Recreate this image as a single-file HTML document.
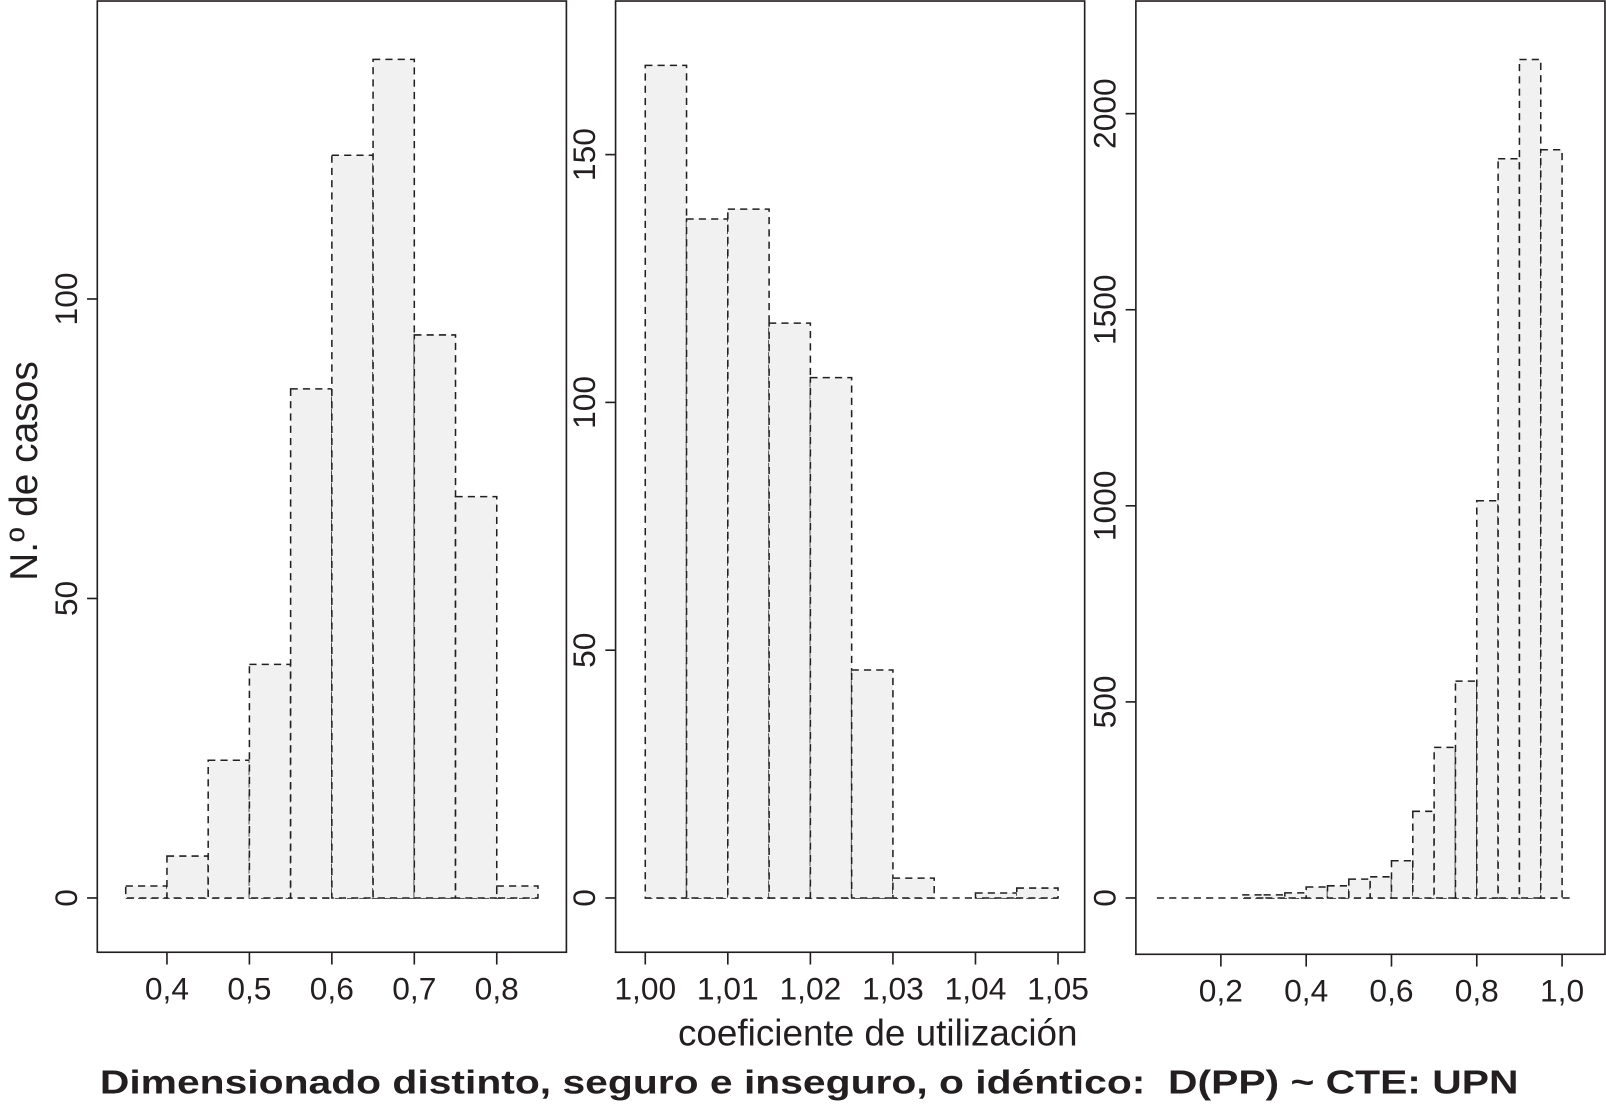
<!DOCTYPE html>
<html><head><meta charset="utf-8"><style>
html,body{margin:0;padding:0;background:#fff;}
svg{display:block;}
text{font-family:"Liberation Sans",Arial,sans-serif;fill:#231f20;}
</style></head><body>
<svg id="chart" width="1606" height="1113" viewBox="0 0 1568 1087" preserveAspectRatio="none" xmlns="http://www.w3.org/2000/svg">
<g id="root"></g>
<text x="0" y="0" font-size="38" text-anchor="middle" transform="translate(36,460) rotate(-90)">N.º de casos</text>
<text x="857" y="1021" font-size="36" text-anchor="middle">coeficiente de utilización</text>
<text x="790" y="1068" font-size="33" font-weight="bold" text-anchor="middle" textLength="1385" lengthAdjust="spacingAndGlyphs" xml:space="preserve">Dimensionado distinto, seguro e inseguro, o idéntico:  D(PP) ~ CTE: UPN</text>
</svg>
<script>
// Panel 1
const p1Edges = [0.35,0.40,0.45,0.50,0.55,0.60,0.65,0.70,0.75,0.80,0.85];
const p1Counts = [2,7,23,39,85,124,140,94,67,2];
const p1XTicks = [0.4,0.5,0.6,0.7,0.8];
const p1XLabels = ["0,4","0,5","0,6","0,7","0,8"];
const p1YTicks = [0,50,100];
// Panel 2
const p2Edges = [1.000,1.005,1.010,1.015,1.020,1.025,1.030,1.035,1.040,1.045,1.050];
const p2Counts = [168,137,139,116,105,46,4,0,1,2];
const p2XTicks = [1.00,1.01,1.02,1.03,1.04,1.05];
const p2XLabels = ["1,00","1,01","1,02","1,03","1,04","1,05"];
const p2YTicks = [0,50,100,150];
// Panel 3
const p3Edges = [0.25,0.30,0.35,0.40,0.45,0.50,0.55,0.60,0.65,0.70,0.75,0.80,0.85,0.90,0.95,1.00];
const p3Counts = [8,8,13,28,31,48,54,95,221,384,553,1013,1885,2138,1908];
const p3XTicks = [0.2,0.4,0.6,0.8,1.0];
const p3XLabels = ["0,2","0,4","0,6","0,8","1,0"];
const p3YTicks = [0,500,1000,1500,2000];
const p3BaseRange = [0.05,1.025];

const NS="http://www.w3.org/2000/svg";
const root=document.getElementById('root');
function mk(tag,attrs,parent){const e=document.createElementNS(NS,tag);for(const k in attrs)e.setAttribute(k,attrs[k]);(parent||root).appendChild(e);return e;}

function panel(name,box,xs,ys,edges,counts,xt,xl,yt,base){
  const g=mk('g',{});
  
  
  const fr=mk('rect',{x:box[0],y:box[1],width:box[2]-box[0],height:box[3]-box[1],fill:'none',stroke:'#231f20','stroke-width':1.6},g);
  
  
  const bl=mk('line',{x1:xs(base[0]),x2:xs(base[1]),y1:ys(0),y2:ys(0),stroke:'#231f20','stroke-width':1.5,'stroke-dasharray':'7,5'},g);
  
  
  for(let i=0;i<counts.length;i++){
    const x0=xs(edges[i]),x1=xs(edges[i+1]),y=ys(counts[i]),y0=ys(0);
    const r=mk('rect',{x:x0,y:Math.min(y,y0),width:x1-x0,height:Math.abs(y0-y),fill:'#f0f1f0',stroke:'#231f20','stroke-width':1.5,'stroke-dasharray':'7,5'},g);
    
    
  }
  for(let i=0;i<xt.length;i++){
    const x=xs(xt[i]);
    const t=mk('line',{x1:x,x2:x,y1:box[3],y2:box[3]+12,stroke:'#231f20','stroke-width':1.6},g);
    
    
    const l=mk('text',{x:x,y:box[3]+46,'font-size':31,'text-anchor':'middle'},g);
    l.textContent=xl[i];
    
    
  }
  for(const v of yt){
    const y=ys(v);
    const t=mk('line',{x1:box[0]-10,x2:box[0],y1:y,y2:y,stroke:'#231f20','stroke-width':1.6},g);
    
    
    const l=mk('text',{x:0,y:0,'font-size':31,'text-anchor':'middle',transform:`translate(${box[0]-20},${y}) rotate(-90)`},g);
    l.textContent=String(v);
    
    
  }
}
panel('panel-1',[95,1,553,930],v=>163+(v-0.4)*805,c=>877-c*5.85,p1Edges,p1Counts,p1XTicks,p1XLabels,p1YTicks,[p1Edges[0],p1Edges[p1Edges.length-1]]);
panel('panel-2',[601,1,1059,930],v=>630+(v-1)*8060,c=>877-c*4.84,p2Edges,p2Counts,p2XTicks,p2XLabels,p2YTicks,[p2Edges[0],p2Edges[p2Edges.length-1]]);
panel('panel-3',[1109,1,1567,932],v=>1192+(v-0.2)*416.4,c=>877-c*0.383,p3Edges,p3Counts,p3XTicks,p3XLabels,p3YTicks,p3BaseRange);
</script>
</body></html>
